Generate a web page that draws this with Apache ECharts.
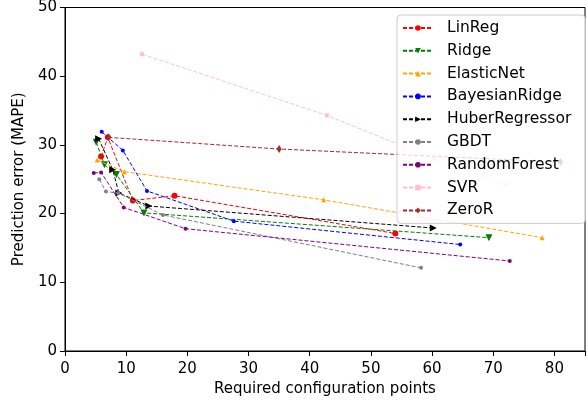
<!DOCTYPE html>
<html><head><meta charset="utf-8">
<script src="https://cdn.jsdelivr.net/npm/echarts@6/dist/echarts.min.js"></script>
<style>html,body{margin:0;padding:0;background:#fff}#c{width:588px;height:402px}</style>
</head><body><div id="c"></div>
<script>
const names = ['LinReg','Ridge','ElasticNet','BayesianRidge','HuberRegressor','GBDT','RandomForest','SVR','ZeroR'];
const linregX = [5.9, 7.0, 11.1, 17.9, 54.0];
const linregY = [28.3, 31.1, 21.9, 22.6, 17.1];
const ridgeX = [5.1, 6.45, 8.4, 12.9, 69.3];
const ridgeY = [30.4, 27.1, 25.7, 20.1, 16.5];
const elasticX = [5.25, 9.7, 42.3, 78.0];
const elasticY = [27.8, 26.1, 22.0, 16.5];
const bayesX = [6.0, 9.45, 13.4, 27.6, 64.6];
const bayesY = [31.9, 29.2, 23.3, 18.9, 15.5];
const huberX = [5.5, 7.8, 8.8, 13.7, 60.2];
const huberY = [30.9, 26.4, 23.0, 21.1, 17.9];
const gbdtX = [5.6, 6.7, 8.7, 16.0, 58.2];
const gbdtY = [25.0, 23.2, 23.0, 19.8, 12.1];
const rfX = [4.7, 5.9, 9.6, 19.7, 72.7];
const rfY = [25.9, 26.0, 20.9, 17.8, 13.1];
const svrX = [12.6, 42.8, 60.3, 72.0];
const svrY = [43.2, 34.3, 28.0, 24.2];
const zeroX = [7.1, 35.0, 81.0];
const zeroY = [31.1, 29.4, 27.5];
const xTicks = [0,10,20,30,40,50,60,70,80];
const yTicks = [0,10,20,30,40,50];

const xs = [linregX, ridgeX, elasticX, bayesX, huberX, gbdtX, rfX, svrX, zeroX];
const ys = [linregY, ridgeY, elasticY, bayesY, huberY, gbdtY, rfY, svrY, zeroY];
const colors = ['#ff0000','#008000','#ffa500','#0000ff','#000000','#808080','#800080','#ffc0cb','#a52a2a'];
const symbols = ['circle','triangle','triangle','circle','triangle','circle','circle','rect','path://M0,-1L0.6,0L0,1L-0.6,0Z'];
const sizes = [6, 7, 5, 4, 7, 4, 4, 4, [5,8]];
const rotates = [0, 180, 0, 0, -90, 0, 0, 0, 0];

const series = names.map((n,i)=>({
  name: n, type: 'line',
  data: xs[i].map((x,j)=>[x, ys[i][j]]),
  symbol: symbols[i], symbolSize: sizes[i], symbolRotate: rotates[i],
  showAllSymbol: true,
  lineStyle: {color: colors[i], width: 1, type: [4,2]},
  itemStyle: {color: colors[i], borderWidth: 0},
  emphasis: {disabled: true},
  animation: false, z: 2 + i
}));

const FONT = 'DejaVu Sans';
const chart = echarts.init(document.getElementById('c'), null, {renderer: 'canvas'});
chart.setOption({
  animation: false,
  backgroundColor: '#fff',
  textStyle: {fontFamily: FONT},
  grid: {left: 65, right: 3, top: 3, bottom: 51, show: true, borderColor: '#000', borderWidth: 1, backgroundColor: 'transparent'},
  xAxis: {
    type: 'value', min: 0, max: 85, interval: 10,
    name: 'Required configuration points', nameLocation: 'middle', nameGap: 30,
    nameTextStyle: {fontSize: 15, color: '#000', fontFamily: FONT},
    axisLine: {show: true, lineStyle: {color: '#000', width: 1}},
    axisTick: {show: true, length: 5, lineStyle: {color: '#000'}},
    axisLabel: {fontSize: 15, color: '#000', margin: 11, fontFamily: FONT,
      formatter: v => xTicks.includes(v) ? String(v) : ''},
    splitLine: {show: false}
  },
  yAxis: {
    type: 'value', min: 0, max: 50, interval: 10,
    name: 'Prediction error (MAPE)', nameLocation: 'middle', nameGap: 36, nameRotate: 90,
    nameTextStyle: {fontSize: 15, color: '#000', fontFamily: FONT},
    axisLine: {show: true, lineStyle: {color: '#000', width: 1}},
    axisTick: {show: true, length: 5, lineStyle: {color: '#000'}},
    axisLabel: {fontSize: 15, color: '#000', margin: 8, fontFamily: FONT,
      formatter: v => yTicks.includes(v) ? String(v) : ''},
    splitLine: {show: false}
  },
  legend: {
    data: names, orient: 'vertical', left: 397, top: 15,
    itemWidth: 30, itemHeight: 7, itemGap: 6.8,
    padding: [5, 14, 5, 5],
    backgroundColor: 'rgba(255,255,255,0.8)',
    borderColor: '#cccccc', borderWidth: 1, borderRadius: 4,
    textStyle: {fontSize: 15.5, lineHeight: 16, color: '#000', fontFamily: FONT, padding: [0,0,0,9]},
    z: 20
  },
  series: series
});
</script></body></html>
